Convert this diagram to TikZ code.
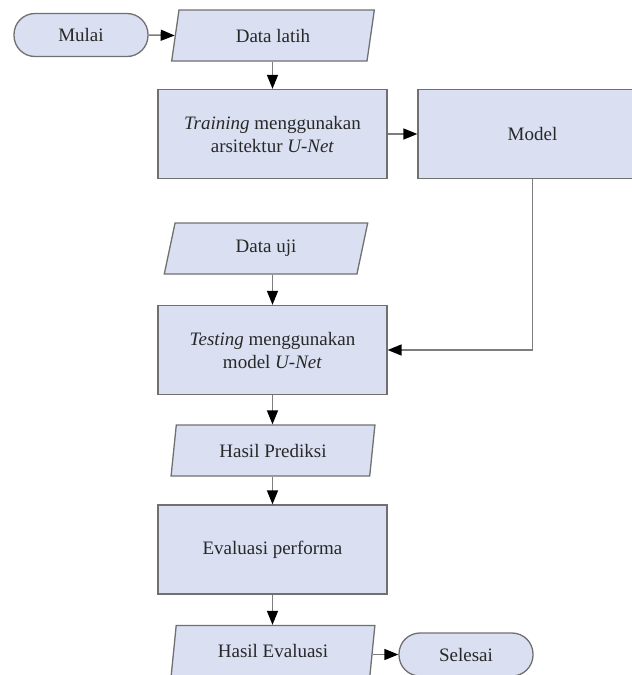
\documentclass[tikz,border=0pt]{standalone}
\usepackage{fontspec}
\setmainfont{Liberation Serif}
\usetikzlibrary{shapes.geometric,arrows.meta}

\definecolor{boxfill}{RGB}{218,224,242}
\definecolor{boxline}{RGB}{112,112,112}
\definecolor{linkline}{RGB}{125,125,125}
\definecolor{labeltext}{RGB}{40,40,40}

\tikzset{
  base/.style={draw=boxline, line width=1.3pt, fill=boxfill, text=labeltext,
    font=\fontsize{19}{23}\selectfont, align=center, inner sep=0pt},
  terminal/.style={base, rectangle, rounded corners=21pt,
    minimum width=134pt, minimum height=43pt},
  process/.style={base, rectangle, minimum width=229pt, minimum height=89pt},
  io/.style={base, trapezium, trapezium left angle=77.8, trapezium right angle=102.2,
    trapezium stretches=true, minimum width=204pt, minimum height=51pt},
  flow/.style={draw=linkline, line width=1.5pt,
    -{Triangle[length=14pt, width=11pt, fill=black, color=black]}}
}

\begin{document}
\begin{tikzpicture}[x=1pt, y=-1pt]
  \useasboundingbox (0,0) rectangle (632,675);
  \clip (0,0) rectangle (632,675);

  % nodes of the flow
  \node[terminal] (mulai)   at (81,35)      {Mulai};
  \node[io]       (latih)   at (273,35.5)   {Data latih};
  \node[process]  (train)   at (272.5,134)  {\textit{Training} menggunakan\\arsitektur \textit{U-Net}};
  \node[process]  (model)   at (532.5,134)  {Model};
  \node[io]       (uji)     at (266,248.5)  {Data uji};
  \node[process]  (test)    at (272.5,350)  {\textit{Testing} menggunakan\\model \textit{U-Net}};
  \node[io]       (pred)    at (273,450.5)  {Hasil Prediksi};
  \node[process]  (eval)    at (272.5,549.5){Evaluasi performa};
  \node[io]       (hasil)   at (273,651)    {Hasil Evaluasi};
  \node[terminal] (selesai) at (466,654.5)  {Selesai};

  % connectors
  \draw[flow] (mulai.east) -- (latih.west);
  \draw[flow] (latih.south -| train.north) -- (train.north);
  \draw[flow] (train.east) -- (model.west);
  \draw[flow] (model.south) |- (test.east);
  \draw[flow] (uji.south -| test.north) -- (test.north);
  \draw[flow] (test.south) -- (pred.north -| test.south);
  \draw[flow] (pred.south -| eval.north) -- (eval.north);
  \draw[flow] (eval.south) -- (hasil.north -| eval.south);
  \draw[flow] (selesai.west -| hasil.east) -- (selesai.west);
\end{tikzpicture}
\end{document}
